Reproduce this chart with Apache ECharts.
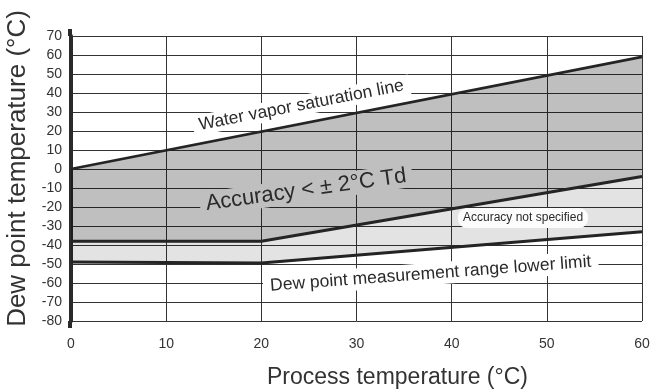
<!DOCTYPE html>
<html>
<head>
<meta charset="utf-8">
<script src="https://cdn.jsdelivr.net/npm/echarts@6/dist/echarts.min.js"></script>
<style>
html,body{margin:0;padding:0;background:#fff;}
#chart{width:652px;height:390px;}
</style>
</head>
<body>
<div id="chart"></div>
<script>
// ---- data ----
const xTickValues = [0, 10, 20, 30, 40, 50, 60];
const yTickValues = [-80, -70, -60, -50, -40, -30, -20, -10, 0, 10, 20, 30, 40, 50, 60, 70];
// water vapor saturation line
const saturationX = [0, 60];
const saturationY = [0, 59];
// accuracy < ±2°C boundary
const accuracyX = [0, 20, 60];
const accuracyY = [-38, -38, -4];
// dew point measurement range lower limit
const lowerX = [0, 20, 60];
const lowerY = [-49, -49.5, -33];
// annotation texts
const noteTexts = ['Water vapor saturation line', 'Accuracy < ± 2°C Td', 'Accuracy not specified', 'Dew point measurement range lower limit'];

// ---- styling / placement config ----
const FONT = '"Liberation Sans", Arial, Helvetica, sans-serif';
const notePlacement = [
  {at: [24.2, 33.5], rot: 11, size: 17.5, bg: '#ffffff', pad: [1, 6], radius: 0},
  {at: [24.7, -11], rot: 8, size: 22, bg: '#bfbfbf', pad: [1, 6], radius: 0},
  {at: [47.5, -25.8], rot: 0, size: 12, bg: '#fcfcfc', pad: [4, 5], radius: 9},
  {at: [37.8, -55.2], rot: 4.3, size: 17.5, bg: '#ffffff', pad: [2, 7], radius: 0}
];

function pairs(xs, ys) { return xs.map((x, i) => [x, ys[i]]); }
const satPts = pairs(saturationX, saturationY);
const accPts = pairs(accuracyX, accuracyY);
const lowPts = pairs(lowerX, lowerY);

const chart = echarts.init(document.getElementById('chart'), null, {renderer: 'canvas'});

const lineStyleBase = {color: '#242424', width: 3};

const option = {
  animation: false,
  backgroundColor: '#ffffff',
  textStyle: {fontFamily: FONT},
  grid: {left: 71, right: 10, top: 36, bottom: 69, containLabel: false, outerBoundsMode: 'none'},
  xAxis: {
    type: 'value', min: xTickValues[0], max: xTickValues[xTickValues.length - 1], interval: 10,
    name: 'Process temperature (°C)', nameLocation: 'middle', nameGap: 45,
    nameTextStyle: {fontSize: 23, color: '#333', fontFamily: FONT, padding: [0, 0, 0, 82]},
    axisLine: {show: true, lineStyle: {color: '#333', width: 1}},
    axisTick: {show: false},
    axisLabel: {fontSize: 14, color: '#333', margin: 16, fontFamily: FONT},
    splitLine: {show: true, lineStyle: {color: '#333', width: 1}}
  },
  yAxis: {
    type: 'value', min: yTickValues[0], max: yTickValues[yTickValues.length - 1], interval: 10,
    name: 'Dew point temperature (°C)', nameLocation: 'middle', nameGap: 40, nameRotate: 90,
    nameTextStyle: {fontSize: 26, color: '#333', fontFamily: FONT, padding: [0, 0, 0, 20]},
    axisLine: {show: true, lineStyle: {color: '#2a2a2a', width: 4}},
    axisTick: {show: false},
    axisLabel: {fontSize: 14, color: '#333', margin: 9, fontFamily: FONT},
    splitLine: {show: true, lineStyle: {color: '#333', width: 1}}
  },
  graphic: [
    {type: 'line', shape: {x1: 70, y1: 29, x2: 70, y2: 36}, style: {stroke: '#2a2a2a', lineWidth: 4}, z: 10},
    {type: 'line', shape: {x1: 70, y1: 321, x2: 70, y2: 328}, style: {stroke: '#2a2a2a', lineWidth: 4}, z: 10}
  ],
  series: [
    {
      type: 'custom', name: 'bands', z: 2, silent: true,
      data: [[0, 0]],
      renderItem: function (params, api) {
        const dark = satPts.concat(accPts.slice().reverse()).map(p => api.coord(p));
        const light = accPts.concat(lowPts.slice().reverse()).map(p => api.coord(p));
        return {
          type: 'group',
          children: [
            {type: 'polygon', shape: {points: dark}, style: {fill: 'rgba(0,0,0,0.25)'}},
            {type: 'polygon', shape: {points: light}, style: {fill: 'rgba(0,0,0,0.11)'}}
          ]
        };
      }
    },
    {
      type: 'custom', name: 'notes', z: 3, silent: true,
      data: noteTexts.map((t, i) => [notePlacement[i].at[0], notePlacement[i].at[1], i]),
      renderItem: function (params, api) {
        const i = api.value(2);
        const cfg = notePlacement[i];
        const p = api.coord([api.value(0), api.value(1)]);
        return {
          type: 'text', x: p[0], y: p[1], rotation: cfg.rot * Math.PI / 180,
          style: {
            text: noteTexts[i], fill: '#2a2a2a',
            font: cfg.size + 'px ' + FONT,
            align: 'center', verticalAlign: 'middle',
            backgroundColor: cfg.bg, padding: cfg.pad, borderRadius: cfg.radius
          }
        };
      }
    },
    {type: 'line', name: 'saturation', data: satPts, showSymbol: false, symbol: 'none', z: 5,
      lineStyle: Object.assign({}, lineStyleBase, {width: 2.6}), silent: true},
    {type: 'line', name: 'accuracy', data: accPts, showSymbol: false, symbol: 'none', z: 5,
      lineStyle: lineStyleBase, silent: true},
    {type: 'line', name: 'lower', data: lowPts, showSymbol: false, symbol: 'none', z: 5,
      lineStyle: lineStyleBase, silent: true}
  ]
};
chart.setOption(option);
</script>
</body>
</html>
